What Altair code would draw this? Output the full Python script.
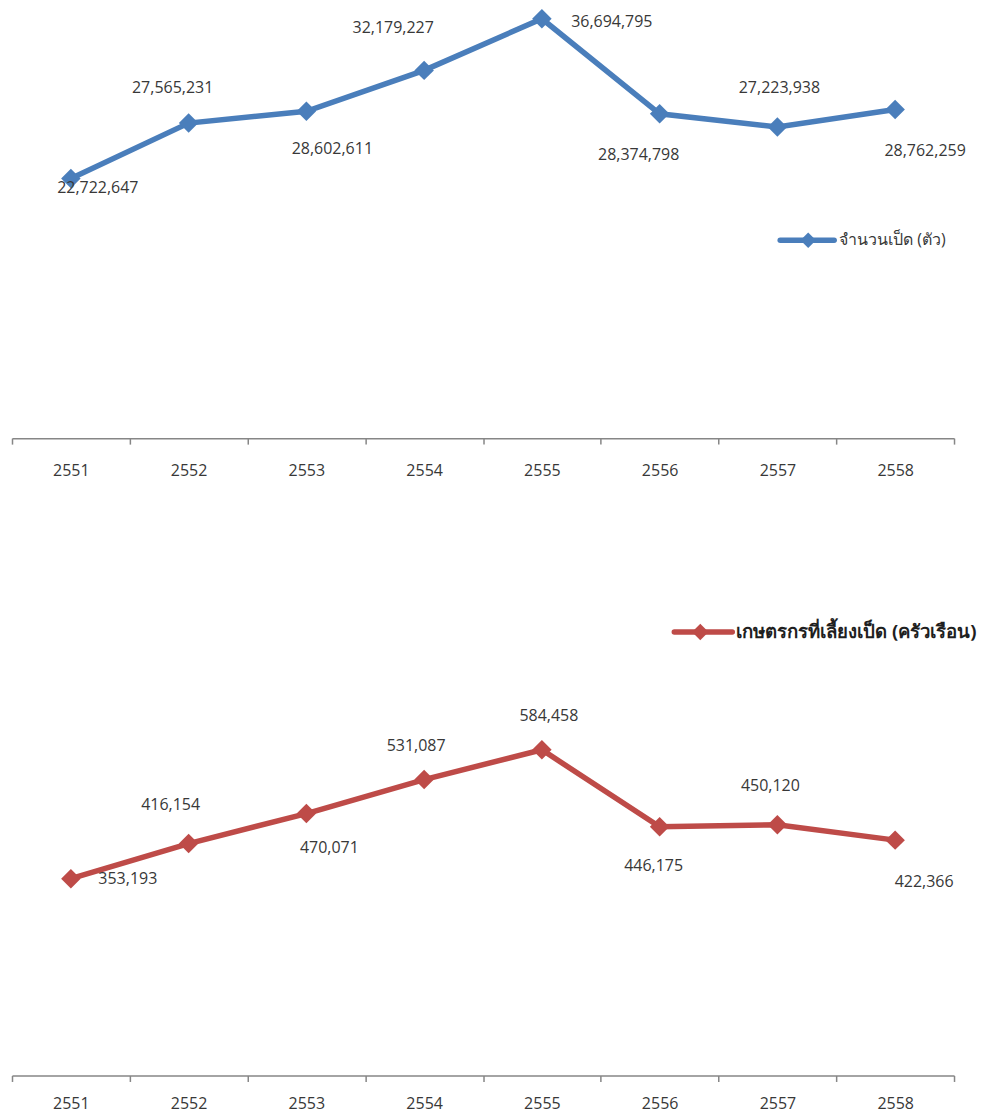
import altair as alt
import pandas as pd

# ---- data ----
years = ["2551", "2552", "2553", "2554", "2555", "2556", "2557", "2558"]
ducks = [22722647, 27565231, 28602611, 32179227, 36694795, 28374798, 27223938, 28762259]
farmers = [353193, 416154, 470071, 531087, 584458, 446175, 450120, 422366]

# label placement offsets (pixels, relative to each point)
duck_label_dx = [27, -16, 26, -31, 70, -21, 2, 30]
duck_label_dy = [10, -35, 38, -42, 3, 41, -39, 42]
farmer_label_dx = [57, -18, 23, -8, 7, -6, -7, 29]
farmer_label_dy = [0, -39, 34, -34, -34, 39, -39, 42]

duck_series = "จำนวนเป็ด (ตัว)"
farmer_series = "เกษตรกรที่เลี้ยงเป็ด (ครัวเรือน)"

BLUE = "#4A7EBB"
RED = "#BE4B48"
TEXT = "#383838"
AXIS = "#868686"
FONT = "Open Sans"
W = 943


def panel(values, dxs, dys, color, ymax, height, legend_text, legend_bold,
          leg_x0, leg_x1, leg_xd, leg_xt, leg_y, leg_size, leg_font, label_pad):
    df = pd.DataFrame({"year": years, "value": values, "ldx": dxs, "ldy": dys})
    base = alt.Chart(df).encode(
        x=alt.X(
            "year:N",
            sort=years,
            title=None,
            scale=alt.Scale(paddingInner=0, paddingOuter=0),
            axis=alt.Axis(
                tickBand="extent",
                domainColor=AXIS,
                domainWidth=1.5,
                tickColor=AXIS,
                tickWidth=1.5,
                tickSize=6,
                labelFont=FONT,
                labelFontSize=16,
                labelColor=TEXT,
                labelAngle=0,
                labelBaseline="middle",
                labelPadding=label_pad,
                grid=False,
            ),
        ),
        y=alt.Y(
            "value:Q",
            title=None,
            axis=None,
            scale=alt.Scale(domain=[0, ymax], nice=False, zero=True),
        ),
    )
    line = base.mark_line(color=color, strokeWidth=5.5)
    pts = base.mark_point(shape="diamond", filled=True, size=380, color=color, opacity=1)
    labels = base.mark_text(
        font=FONT,
        fontSize=16,
        color=TEXT,
        align="center",
        baseline="middle",
        dx=alt.ExprRef("datum.ldx"),
        dy=alt.ExprRef("datum.ldy"),
    ).encode(text=alt.Text("value:Q", format=","))

    leg_df = pd.DataFrame({"name": [legend_text]})
    leg = alt.Chart(leg_df)
    leg_line = leg.mark_rule(color=color, strokeWidth=5.5, strokeCap="round").encode(
        x=alt.value(leg_x0), x2=alt.value(leg_x1), y=alt.value(leg_y)
    )
    leg_pt = leg.mark_point(shape="diamond", filled=True, size=leg_size, color=color, opacity=1).encode(
        x=alt.value(leg_xd), y=alt.value(leg_y)
    )
    leg_txt = leg.mark_text(
        font=FONT,
        fontSize=leg_font,
        fontWeight="bold" if legend_bold else "normal",
        color="#1f1f1f" if legend_bold else TEXT,
        align="left",
        baseline="middle",
    ).encode(x=alt.value(leg_xt), y=alt.value(leg_y), text="name:N")

    return alt.layer(line, pts, labels, leg_line, leg_pt, leg_txt).properties(
        width=W, height=height
    )


top = panel(ducks, duck_label_dx, duck_label_dy, BLUE, 37500000, 429,
            duck_series, False, 769, 823, 797, 828, 231, 240, 16, 26)
bottom = panel(farmers, farmer_label_dx, farmer_label_dy, RED, 900000, 502,
               farmer_series, True, 663, 721, 689, 725, 58, 270, 18.6, 22)

chart = (
    alt.vconcat(top, bottom, spacing=96)
    .properties(
        padding={"left": 3, "top": -1, "right": 0, "bottom": 2},
        background="white",
    )
    .configure_view(stroke=None, strokeOpacity=0, strokeWidth=0)
)

chart.save("out.html", embed_options={"renderer": "svg", "actions": False})
